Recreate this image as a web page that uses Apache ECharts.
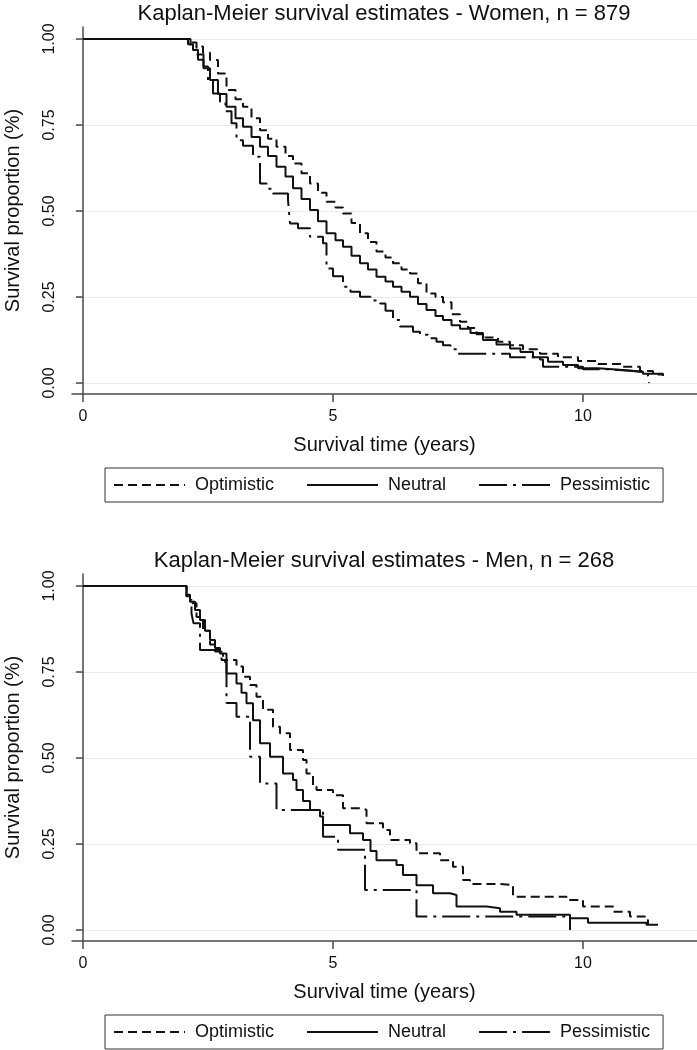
<!DOCTYPE html>
<html><head><meta charset="utf-8">
<script src="https://cdn.jsdelivr.net/npm/echarts@6/dist/echarts.min.js"></script>
<style>html,body{margin:0;padding:0;background:#fff}#c{width:697px;height:1050px}</style>
</head><body><div id="c"></div>
<script>
const titles = ['Kaplan-Meier survival estimates - Women, n = 879', 'Kaplan-Meier survival estimates - Men, n = 268'];
const seriesNames = ['Optimistic', 'Neutral', 'Pessimistic'];
const xAxisTitle = 'Survival time (years)';
const yAxisTitle = 'Survival proportion (%)';
const xTicks = [0, 5, 10];
const yTicks = [0, 0.25, 0.5, 0.75, 1];

// [time (years), survival proportion]
const womenOptimistic = [[0,1],[2.05,1],[2.15,0.99],[2.27,0.978],[2.4,0.96],[2.54,0.939],[2.7,0.9],[2.87,0.852],[3.05,0.825],[3.2,0.803],[3.37,0.77],[3.54,0.735],[3.7,0.71],[3.87,0.687],[4.05,0.66],[4.2,0.638],[4.37,0.61],[4.54,0.58],[4.7,0.553],[4.87,0.527],[5.05,0.51],[5.2,0.493],[5.37,0.465],[5.54,0.435],[5.7,0.41],[5.87,0.382],[6.05,0.365],[6.2,0.348],[6.37,0.33],[6.54,0.318],[6.7,0.29],[6.87,0.26],[7.05,0.25],[7.2,0.235],[7.37,0.2],[7.54,0.178],[7.7,0.16],[7.87,0.142],[8.05,0.132],[8.3,0.12],[8.54,0.11],[8.8,0.098],[9.14,0.085],[9.5,0.075],[9.9,0.064],[10.3,0.055],[10.8,0.047],[11.14,0.035],[11.4,0.025],[11.6,0.02]];
const womenNeutral = [[0,1],[2.04,1],[2.1,0.985],[2.2,0.968],[2.3,0.94],[2.41,0.915],[2.54,0.881],[2.7,0.84],[2.87,0.803],[3.05,0.77],[3.2,0.745],[3.37,0.715],[3.54,0.687],[3.7,0.66],[3.87,0.629],[4.05,0.6],[4.2,0.566],[4.37,0.535],[4.54,0.503],[4.7,0.47],[4.87,0.435],[5.05,0.415],[5.2,0.396],[5.37,0.37],[5.54,0.348],[5.7,0.33],[5.87,0.309],[6.05,0.295],[6.2,0.28],[6.37,0.265],[6.54,0.251],[6.7,0.23],[6.87,0.212],[7.05,0.195],[7.2,0.183],[7.37,0.168],[7.54,0.158],[7.75,0.145],[8.0,0.125],[8.27,0.112],[8.54,0.1],[8.75,0.09],[9.0,0.075],[9.3,0.062],[9.6,0.052],[9.9,0.043],[10.3,0.038],[10.8,0.033],[11.2,0.027],[11.6,0.02]];
const womenPessimistic = [[0,1],[2.04,1],[2.15,0.98],[2.27,0.955],[2.41,0.92],[2.5,0.88],[2.6,0.842],[2.74,0.818],[2.85,0.79],[2.97,0.755],[3.07,0.706],[3.2,0.69],[3.4,0.658],[3.54,0.58],[3.67,0.565],[3.8,0.551],[4.1,0.532],[4.14,0.464],[4.3,0.45],[4.54,0.425],[4.8,0.406],[4.87,0.333],[5.0,0.31],[5.2,0.28],[5.35,0.265],[5.54,0.251],[5.75,0.24],[5.94,0.231],[6.05,0.21],[6.2,0.183],[6.34,0.164],[6.6,0.149],[6.74,0.14],[6.9,0.13],[7.07,0.12],[7.2,0.11],[7.35,0.098],[7.5,0.085],[8.54,0.075],[9.14,0.068],[9.2,0.047],[10.0,0.04],[10.5,0.035],[11.0,0.03],[11.3,0.02],[11.32,0]];
const menOptimistic = [[0,1],[2.0,1],[2.07,0.97],[2.14,0.95],[2.27,0.91],[2.4,0.87],[2.54,0.83],[2.64,0.81],[2.77,0.785],[3.07,0.766],[3.2,0.736],[3.34,0.712],[3.47,0.678],[3.6,0.64],[3.8,0.591],[3.94,0.572],[4.14,0.523],[4.4,0.494],[4.47,0.455],[4.6,0.417],[4.67,0.407],[5.0,0.392],[5.2,0.354],[5.6,0.349],[5.67,0.31],[6.0,0.291],[6.14,0.262],[6.54,0.252],[6.67,0.223],[7.14,0.203],[7.4,0.184],[7.6,0.145],[7.74,0.134],[8.34,0.131],[8.6,0.097],[9.67,0.087],[10.0,0.068],[10.6,0.053],[10.94,0.039],[11.24,0.029],[11.3,0.015]];
const menNeutral = [[0,1],[2.0,1],[2.07,0.975],[2.14,0.954],[2.24,0.93],[2.34,0.901],[2.44,0.87],[2.54,0.843],[2.64,0.82],[2.74,0.804],[2.87,0.746],[3.07,0.717],[3.17,0.69],[3.27,0.659],[3.4,0.61],[3.54,0.543],[3.74,0.504],[4.0,0.455],[4.2,0.436],[4.27,0.407],[4.4,0.375],[4.54,0.349],[4.74,0.33],[4.8,0.305],[5.34,0.281],[5.6,0.262],[5.75,0.23],[5.87,0.203],[6.27,0.189],[6.4,0.16],[6.67,0.13],[7.0,0.107],[7.34,0.102],[7.47,0.068],[8.07,0.063],[8.34,0.053],[8.67,0.044],[9.74,0.034],[10.1,0.021],[11.27,0.015],[11.5,0.015]];
const menPessimistic = [[0,1],[2.0,1],[2.07,0.96],[2.17,0.92],[2.21,0.892],[2.34,0.814],[2.8,0.78],[2.87,0.66],[3.07,0.62],[3.34,0.504],[3.54,0.426],[3.87,0.349],[4.8,0.271],[5.1,0.233],[5.64,0.116],[6.67,0.039],[9.74,0]];

const FONT = '"Liberation Sans", Arial, Helvetica, sans-serif';
const INK = '#111';
const AXIS = '#4a4a4a';
const dashTypes = [[9, 5], 'solid', [28, 6, 3, 6]];
const panels = [
  {top: 27, title: titles[0], data: [womenOptimistic, womenNeutral, womenPessimistic]},
  {top: 574, title: titles[1], data: [menOptimistic, menNeutral, menPessimistic]}
];

const grids = [], xAxes = [], yAxes = [], series = [], legends = [], graphics = [];
panels.forEach((p, i) => {
  grids.push({left: 72, right: 0, top: p.top, height: 367, containLabel: false, outerBoundsMode: 'none'});
  xAxes.push({
    type: 'value', gridIndex: i, min: -0.22, max: 12.28,
    name: xAxisTitle, nameLocation: 'middle', nameGap: 41,
    nameTextStyle: {fontFamily: FONT, fontSize: 20, color: INK},
    axisLine: {show: true, onZero: false, lineStyle: {color: AXIS, width: 1.5}},
    axisTick: {show: true, customValues: xTicks, length: 8, lineStyle: {color: AXIS, width: 1.5}},
    axisLabel: {customValues: xTicks, fontFamily: FONT, fontSize: 16, margin: 15, color: INK},
    splitLine: {show: false}
  });
  yAxes.push({
    type: 'value', gridIndex: i, min: -0.032, max: 1.035,
    name: yAxisTitle, nameLocation: 'middle', nameGap: 49, nameRotate: 90,
    nameTextStyle: {fontFamily: FONT, fontSize: 20, color: INK},
    axisLine: {show: true, lineStyle: {color: AXIS, width: 1.5}},
    axisTick: {show: true, customValues: yTicks, length: 7, lineStyle: {color: AXIS, width: 1.5}},
    axisLabel: {customValues: yTicks, rotate: 90, fontFamily: FONT, fontSize: 16, margin: 14, color: INK,
      formatter: v => Number(v).toFixed(2)},
    splitLine: {show: true, lineStyle: {color: '#ebebeb', width: 1}}
  });
  seriesNames.forEach((name, k) => {
    series.push({
      name, type: 'line', step: 'end', xAxisIndex: i, yAxisIndex: i,
      symbol: 'none', showSymbol: false, silent: true, animation: false,
      lineStyle: {color: INK, width: 2, type: dashTypes[k]},
      itemStyle: {color: INK},
      data: p.data[k]
    });
  });
  legends.push({
    left: 105, top: p.top + 441, orient: 'horizontal', selectedMode: false,
    padding: [8, 13, 8, 8], borderColor: '#333', borderWidth: 1,
    itemWidth: 71, itemHeight: 14, itemGap: 32,
    itemStyle: {color: 'rgba(0,0,0,0)', borderWidth: 0, opacity: 0},
    textStyle: {fontFamily: FONT, fontSize: 18, color: INK, padding: [0, 0, 0, 5]},
    data: seriesNames.map((n, k) => ({name: n, lineStyle: {type: dashTypes[k], width: 2, color: INK, opacity: 1}}))
  });
  graphics.push({
    type: 'text', x: 384, y: p.top - 13, silent: true,
    style: {text: p.title, align: 'center', verticalAlign: 'middle', font: '22px ' + FONT, fill: INK}
  });
});

const chart = echarts.init(document.getElementById('c'), null, {renderer: 'canvas'});
chart.setOption({
  animation: false,
  backgroundColor: '#fff',
  grid: grids, xAxis: xAxes, yAxis: yAxes, series, legend: legends,
  graphic: graphics
});
</script>
</body></html>
